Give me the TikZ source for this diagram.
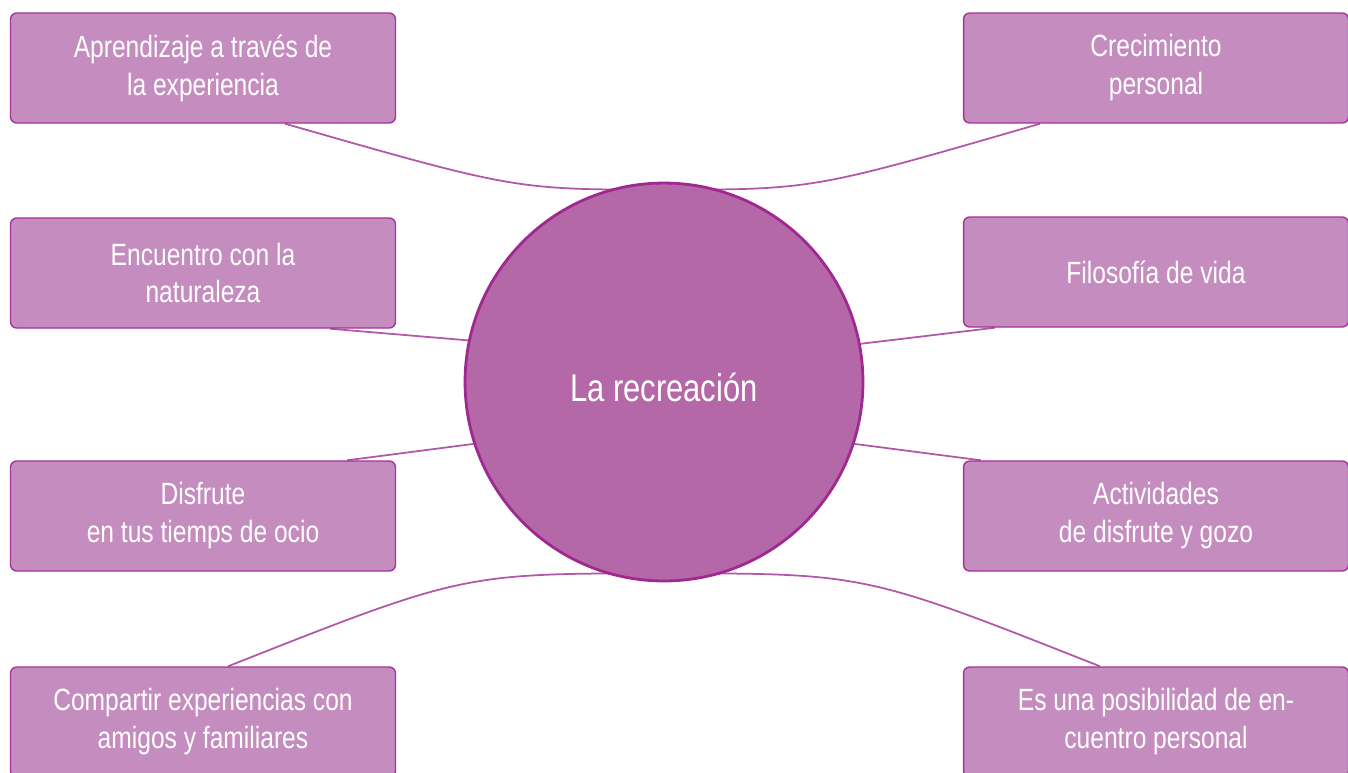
\documentclass[tikz,border=0pt]{standalone}
\usepackage{fontspec}
\setmainfont{Liberation Sans}[FakeStretch=0.8]
\usepackage{xcolor}
\usetikzlibrary{calc, math, backgrounds}
\definecolor{boxfill}{RGB}{197,141,191}
\definecolor{boxline}{RGB}{168,48,154}
\definecolor{recfill}{RGB}{181,104,168}
\definecolor{recline}{RGB}{160,40,145}
\definecolor{linkcol}{RGB}{176,88,165}

\begin{document}
\begin{tikzpicture}[x=0.02cm, y=-0.02cm,
  idea/.style={draw=boxline, line width=0.8pt, fill=boxfill, rounded corners=3.5pt,
    minimum width=\bw cm, minimum height=\bh cm, inner sep=0pt, align=center,
    text=white, font=\fontsize{17.5}{21.6}\selectfont},
  link/.style={draw=linkcol, line width=1pt}]
\tikzmath{
\bw=7.7;
\bh=2.2;
\rd=7.96;
}
\useasboundingbox (0,0) rectangle (1348,772);

\node[draw=recline, line width=1.6pt, fill=recfill, circle, minimum size=\rd cm, inner sep=0pt,
  label={[text=white, font=\fontsize{22}{26}\selectfont, yshift=-0.1cm]center:La recreación}]
  (rec) at (664,382) {};

\node[idea] (apr) at (203,68) {Aprendizaje a través de\\la experiencia};
\node[idea] (cre) at (1156,68) {Crecimiento\\personal};
\node[idea] (enc) at (203,273) {Encuentro con la\\naturaleza};
\node[idea] (fil) at (1156,272) {Filosofía de vida};
\node[idea] (dis) at (203,516) {Disfrute\\en tus tiemps de ocio};
\node[idea] (act) at (1156,516) {Actividades\\de disfrute y gozo};
\node[idea] (com) at (203,722) {Compartir experiencias con\\amigos y familiares};
\node[idea] (pos) at (1156,722) {Es una posibilidad de en-\\cuentro personal};

\begin{scope}[on background layer]
\draw[link] ($(apr.south)+(82,0)$) .. controls ($(rec.north)+(-149,8)$) .. ($(rec.north)+(0,8)$);
\draw[link] ($(cre.south)+(-116,0)$) .. controls ($(rec.north)+(149,8)$) .. ($(rec.north)+(0,8)$);
\draw[link] ($(enc.south)+(127,0)$) -- (rec.168);
\draw[link] ($(fil.south)+(-161,0)$) -- (rec.11.5);
\draw[link] ($(dis.north)+(144,0)$) -- (rec.198.5);
\draw[link] ($(act.north)+(-175,0)$) -- (rec.-18.5);
\draw[link] ($(com.north)+(25,0)$) .. controls ($(rec.south)+(-201,-9)$) .. ($(rec.south)+(0,-9)$);
\draw[link] ($(pos.north)+(-56,0)$) .. controls ($(rec.south)+(201,-9)$) .. ($(rec.south)+(0,-9)$);
\end{scope}
\end{tikzpicture}
\end{document}
